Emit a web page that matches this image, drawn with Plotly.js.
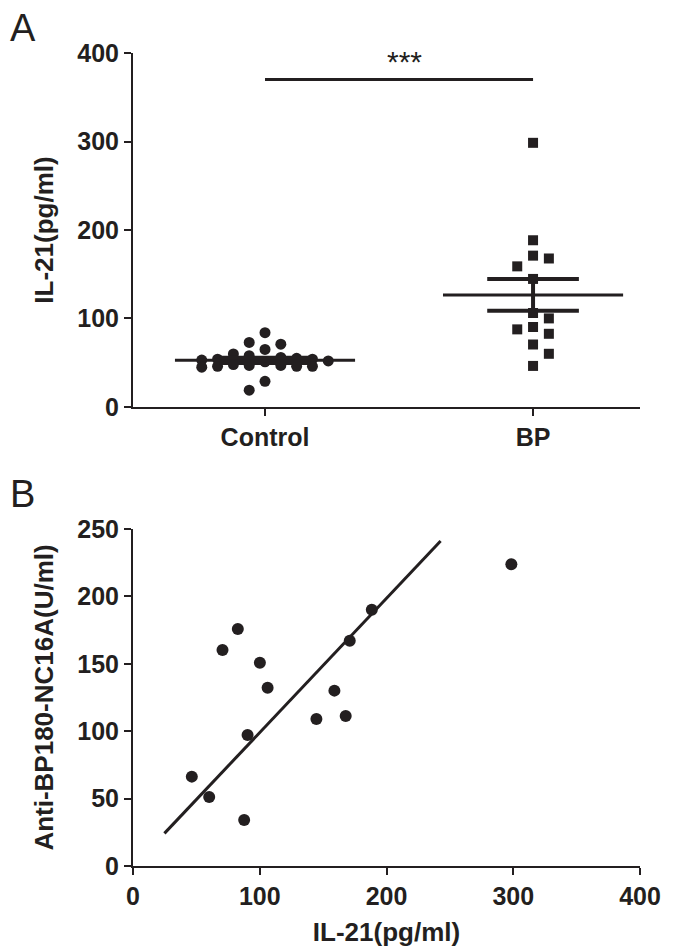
<!DOCTYPE html>
<html>
<head>
<meta charset="utf-8">
<script src="https://cdn.plot.ly/plotly-3.0.1.min.js"></script>
<style>html,body{margin:0;padding:0;background:#fff;}#chart{width:673px;height:951px;}</style>
</head>
<body>
<div id="chart"></div>
<script>
// ---------- data ----------
var groups = ["Control", "BP"];
var controlIL21 = [84, 73, 71, 65, 60, 58, 56, 55, 54, 54, 53, 52, 51, 48, 47, 47, 46, 46, 46, 45, 29, 19];
var bpIL21 = [46.4, 60.1, 87.7, 70.6, 82.7, 100.1, 106.2, 90.4, 144.7, 158.9, 167.8, 171.0, 188.4, 298.5];
var bpAntiBP180 = [66.3, 51.2, 34.1, 160.2, 175.8, 150.8, 132.3, 97.2, 109.1, 130.1, 111.3, 167.1, 190.1, 223.8];
var fitLineX = [24.8, 242.7];
var fitLineY = [24.2, 241.1];
var sigLabel = "***";
var sigLevel = 370;
var yTicksA = [0, 100, 200, 300, 400];
var xTicksB = [0, 100, 200, 300, 400];
var yTicksB = [0, 50, 100, 150, 200, 250];

// ---------- helpers ----------
var INK = "#231f20";
var FONT = "Arial, 'Liberation Sans', sans-serif";
var pxPerUnitA = 354 / 400;   // vertical pixels per data unit, panel A
var stepX = 0.059;            // horizontal swarm step (category units)
var sepPx = 12;
var maxSlot = 4;

function swarm(vals, center, dir) {
  var idx = vals.map(function (v, i) { return i; }).sort(function (a, b) { return vals[b] - vals[a]; });
  var placed = [];
  var xs = new Array(vals.length);
  var slots = [0];
  for (var k = 1; k <= maxSlot; k++) { slots.push(-k * dir); slots.push(k * dir); }
  idx.forEach(function (i) {
    var best = null, bestGap = -1;
    for (var j = 0; j < slots.length; j++) {
      var s = slots[j];
      var gap = Infinity;
      placed.forEach(function (p) { if (p.slot === s) gap = Math.min(gap, Math.abs(p.v - vals[i]) * pxPerUnitA); });
      if (gap >= sepPx) { best = s; break; }
      if (gap > bestGap) { bestGap = gap; best = s; }
    }
    placed.push({ slot: best, v: vals[i] });
    xs[i] = center + best * stepX;
  });
  return xs;
}
function mean(a) { return a.reduce(function (s, v) { return s + v; }, 0) / a.length; }
function sem(a) {
  var m = mean(a);
  var v = a.reduce(function (s, x) { return s + (x - m) * (x - m); }, 0) / (a.length - 1);
  return Math.sqrt(v) / Math.sqrt(a.length);
}
function summaryTraces(vals, c) {
  var m = mean(vals), s = sem(vals), w1 = 0.336, w2 = 0.171;
  return [
    { x: [c - w1, c + w1], y: [m, m], mode: "lines", line: { color: INK, width: 3 }, xaxis: "x", yaxis: "y", showlegend: false, hoverinfo: "skip" },
    { x: [c - w2, c + w2, null, c - w2, c + w2, null, c, c], y: [m + s, m + s, null, m - s, m - s, null, m - s, m + s],
      mode: "lines", line: { color: INK, width: 4 }, xaxis: "x", yaxis: "y", showlegend: false, hoverinfo: "skip" }
  ];
}

var traces = [
  { x: swarm(controlIL21, 0, 1), y: controlIL21, mode: "markers", name: groups[0], marker: { symbol: "circle", size: 11, color: INK }, xaxis: "x", yaxis: "y", showlegend: false },
  { x: swarm(bpIL21, 1, -1), y: bpIL21, mode: "markers", name: groups[1], marker: { symbol: "square", size: 10, color: INK }, xaxis: "x", yaxis: "y", showlegend: false }
].concat(summaryTraces(controlIL21, 0), summaryTraces(bpIL21, 1), [
  { x: [0, 1], y: [sigLevel, sigLevel], mode: "lines", line: { color: INK, width: 3 }, xaxis: "x", yaxis: "y", showlegend: false, hoverinfo: "skip" },
  { x: bpIL21, y: bpAntiBP180, mode: "markers", marker: { symbol: "circle", size: 12, color: INK }, xaxis: "x2", yaxis: "y2", showlegend: false },
  { x: fitLineX, y: fitLineY, mode: "lines", line: { color: INK, width: 3 }, xaxis: "x2", yaxis: "y2", showlegend: false, hoverinfo: "skip" }
]);

var tickFont = { family: FONT, size: 25, color: INK, weight: "bold" };
var titleFont = { family: FONT, size: 26, color: INK, weight: "bold" };
var axisCommon = { showline: true, linecolor: INK, linewidth: 2, ticks: "outside", ticklen: 7, tickwidth: 2, tickcolor: INK,
  showgrid: false, zeroline: false, tickfont: tickFont, automargin: false };

var layout = {
  width: 673, height: 951,
  margin: { l: 133, r: 33, t: 53, b: 85 },
  paper_bgcolor: "#fff", plot_bgcolor: "#fff",
  font: { family: FONT, color: INK },
  xaxis: Object.assign({}, axisCommon, { domain: [0, 1], range: [-0.4925, 1.399], tickvals: [0, 1], ticktext: groups, anchor: "y" }),
  yaxis: Object.assign({}, axisCommon, { domain: [0.5646, 1], range: [0, 400], tickvals: yTicksA, anchor: "x",
    title: { text: "IL-21(pg/ml)", font: titleFont, standoff: 16 } }),
  xaxis2: Object.assign({}, axisCommon, { domain: [0, 1], range: [0, 400], tickvals: xTicksB, anchor: "y2",
    title: { text: "IL-21(pg/ml)", font: titleFont, standoff: 14 } }),
  yaxis2: Object.assign({}, axisCommon, { domain: [0, 0.4145], range: [0, 250], tickvals: yTicksB, anchor: "x2",
    title: { text: "Anti-BP180-NC16A(U/ml)", font: titleFont, standoff: 16 } }),
  annotations: [
    { text: sigLabel, xref: "x", yref: "y", x: 0.52, y: sigLevel, yanchor: "bottom", yshift: 0, showarrow: false, font: { family: FONT, size: 30, color: INK } },
    { text: "A", xref: "paper", yref: "paper", x: -0.2465, y: 1.059, xanchor: "left", yanchor: "top", showarrow: false, font: { family: FONT, size: 38, color: INK } },
    { text: "B", xref: "paper", yref: "paper", x: -0.2465, y: 0.4855, xanchor: "left", yanchor: "top", showarrow: false, font: { family: FONT, size: 38, color: INK } }
  ]
};

Plotly.newPlot("chart", traces, layout, { displayModeBar: false, staticPlot: true });
</script>
</body>
</html>
